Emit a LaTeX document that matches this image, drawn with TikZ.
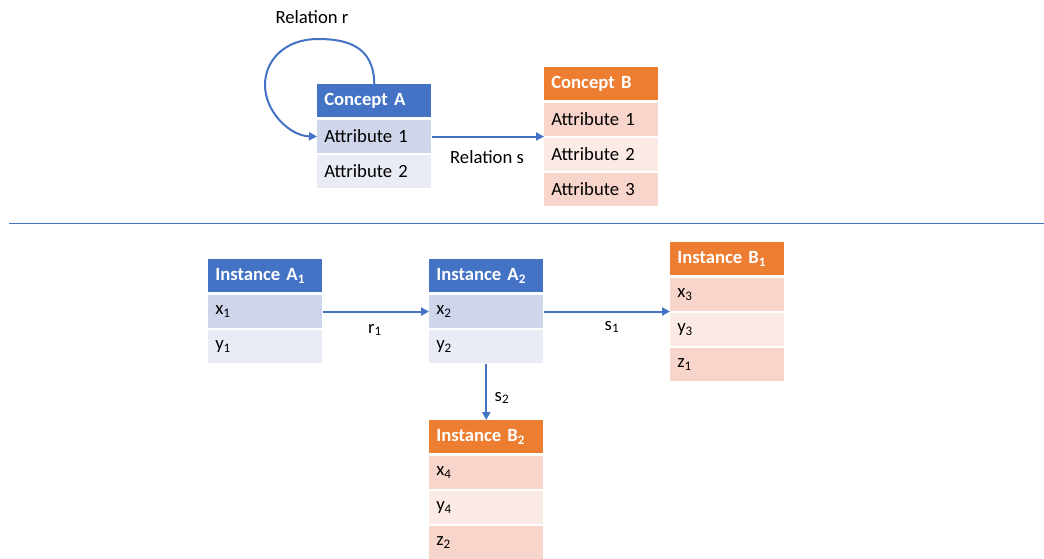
\documentclass[tikz,border=0pt]{standalone}
\usepackage{fontspec}
\setmainfont{Carlito}
\usetikzlibrary{arrows.meta}
\definecolor{blueH}{HTML}{4472C4}
\definecolor{blueD}{HTML}{CFD5EA}
\definecolor{blueL}{HTML}{E9EBF5}
\definecolor{orangeH}{HTML}{ED7D31}
\definecolor{orangeD}{HTML}{F8D5CA}
\definecolor{orangeL}{HTML}{FBEAE5}
\tikzset{
  cellbase/.style={anchor=north west, inner xsep=5.25pt, inner ysep=0pt,
    text width=75pt, align=left, minimum height=25.125pt,
    font=\fontsize{14}{16}\selectfont},
  headbase/.style={cellbase, minimum height=24.75pt, text=white,
    font=\fontsize{14}{16}\selectfont\bfseries},
  headA/.style={headbase, fill=blueH},
  headB/.style={headbase, fill=orangeH},
  rowAd/.style={cellbase, fill=blueD},
  rowAl/.style={cellbase, fill=blueL},
  rowBd/.style={cellbase, fill=orangeD},
  rowBl/.style={cellbase, fill=orangeL},
  link/.style={draw=blueH, line width=1.5pt,
    -{Triangle[length=6pt,width=6pt]}},
  lbl/.style={font=\fontsize{14}{16}\selectfont, inner sep=0pt},
}
\begin{document}
\begin{tikzpicture}[x=0.75pt,y=-0.75pt]
\useasboundingbox (0,0) rectangle (1044,558);

% concept level
\node[headA] (cA)  at (317,84)    {Concept A};
\node[rowAd] (cA1) at (317,119.5) {Attribute 1};
\node[rowAl] (cA2) at (317,154.5) {Attribute 2};

\node[headB] (cB)  at (544,67)    {Concept B};
\node[rowBd] (cB1) at (544,102.5) {Attribute 1};
\node[rowBl] (cB2) at (544,137.5) {Attribute 2};
\node[rowBd] (cB3) at (544,172.5) {Attribute 3};

\node[lbl] (lr) at (312,17)  {Relation r};
\node[lbl] (ls) at (487,157) {Relation s};

\draw[link] (cA.north) .. controls (374,45) and (345,39) .. (318,39)
  .. controls (285,39) and (265,60) .. (265,85)
  .. controls (265,112) and (290,136) .. (cA1.west);
\draw[link] (cA1.east) -- (cA1.east -| cB1.west);

% separator
\draw[blueH, line width=0.75pt] (9,223) -- (1044,223);

% instance level
\node[headA] (iA1)  at (208,259)   {Instance A\textsubscript{1}};
\node[rowAd] (iA1x) at (208,294.5) {x\textsubscript{1}};
\node[rowAl] (iA1y) at (208,329.5) {y\textsubscript{1}};

\node[headA] (iA2)  at (429,259)   {Instance A\textsubscript{2}};
\node[rowAd] (iA2x) at (429,294.5) {x\textsubscript{2}};
\node[rowAl] (iA2y) at (429,329.5) {y\textsubscript{2}};

\node[headB] (iB1)  at (670,242)   {Instance B\textsubscript{1}};
\node[rowBd] (iB1x) at (670,277.5) {x\textsubscript{3}};
\node[rowBl] (iB1y) at (670,312.5) {y\textsubscript{3}};
\node[rowBd] (iB1z) at (670,347.5) {z\textsubscript{1}};

\node[headB] (iB2)  at (429,420)   {Instance B\textsubscript{2}};
\node[rowBd] (iB2x) at (429,455.5) {x\textsubscript{4}};
\node[rowBl] (iB2y) at (429,490.5) {y\textsubscript{4}};
\node[rowBd] (iB2z) at (429,525.5) {z\textsubscript{2}};

\draw[link] (iA1x.east) -- (iA1x.east -| iA2x.west);
\draw[link] (iA2x.east) -- (iA2x.east -| iB1x.west);
\draw[link] (iA2y.south) -- (iB2.north);

\node[lbl] (lr1) at (375,330) {r\textsubscript{1}};
\node[lbl] (ls1) at (612,327) {s\textsubscript{1}};
\node[lbl] (ls2) at (502,398) {s\textsubscript{2}};
\end{tikzpicture}
\end{document}
